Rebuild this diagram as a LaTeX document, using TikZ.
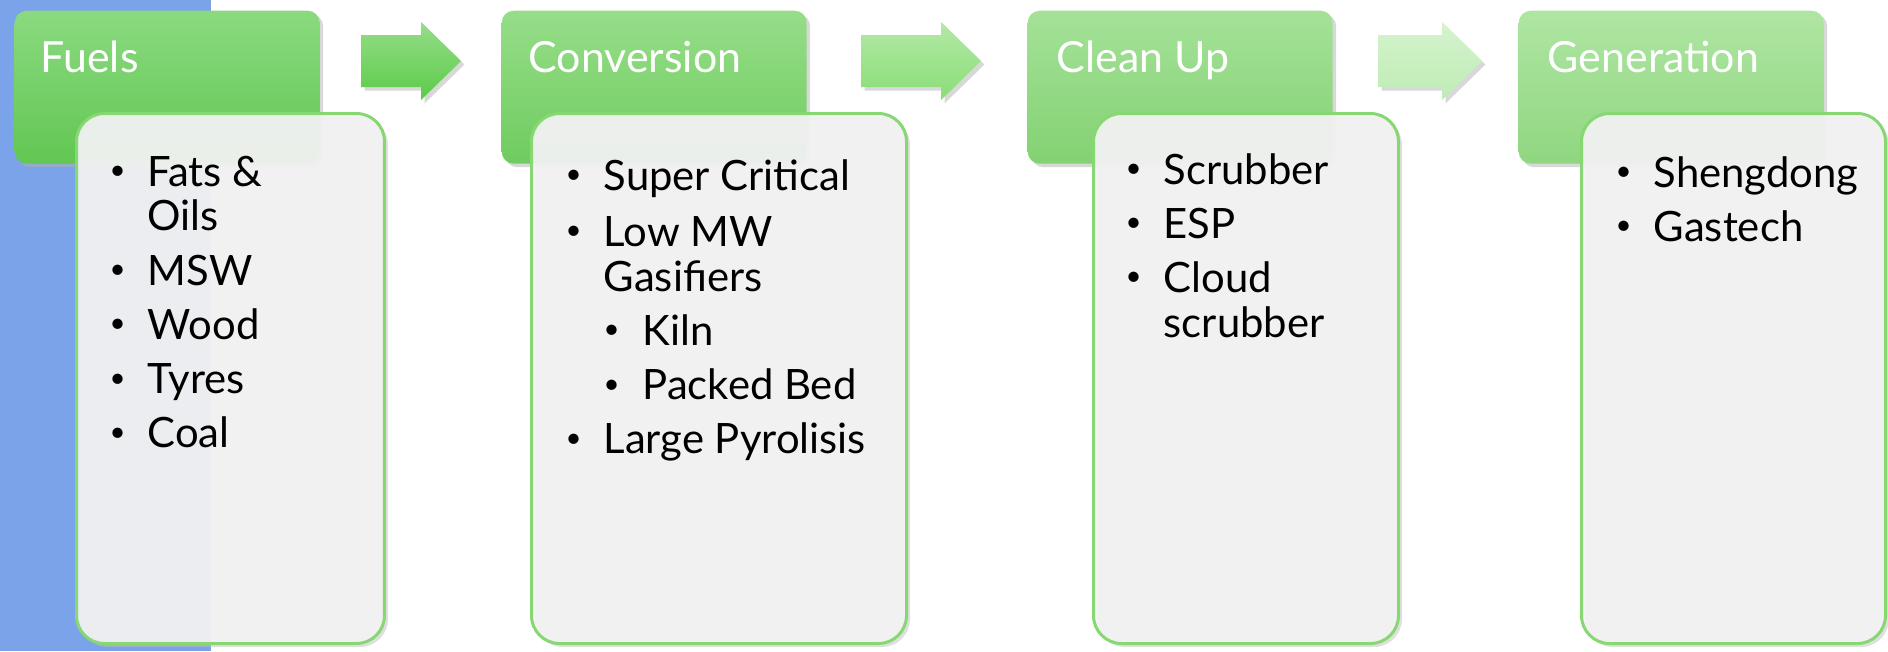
\documentclass[tikz,border=0pt]{standalone}
\usepackage{fontspec}
\setmainfont{Lato}
\usetikzlibrary{shadows}
\definecolor{stripblue}{RGB}{122,163,234}
\definecolor{fuelsgreen}{RGB}{100,205,85}
\definecolor{convgreen}{RGB}{115,210,98}
\definecolor{cleangreen}{RGB}{135,216,118}
\definecolor{gengreen}{RGB}{148,221,132}
\definecolor{arrowA}{RGB}{92,203,72}
\definecolor{arrowB}{RGB}{138,221,118}
\definecolor{arrowC}{RGB}{190,236,180}
\definecolor{boxfill}{RGB}{243,243,243}
\definecolor{boxline}{RGB}{135,215,115}
\newcommand{\dotmark}{\raisebox{0.3ex}{\scalebox{0.66}{\textbullet}}}
\begin{document}
\begin{tikzpicture}[x=0.1mm,y=-0.1mm,
header/.style={rectangle,rounded corners=1.2mm,anchor=north west,minimum width=30.5mm,minimum height=15.3mm,inner sep=0pt,
  top color=#1!75!white,middle color=#1,bottom color=#1!97!black,
  drop shadow={shadow xshift=0.35mm,shadow yshift=-0.35mm,fill=black!30}},
listbox/.style={rectangle,rounded corners=2.8mm,anchor=north west,minimum height=53mm,inner sep=0pt,
  draw=boxline,line width=0.3mm,fill=boxfill,fill opacity=0.92,
  drop shadow={shadow xshift=0.35mm,shadow yshift=-0.35mm,fill=black!25}},
headtext/.style={anchor=base west,inner sep=0pt,text=white,font=\fontsize{12.2}{15}\selectfont},
listtext/.style={anchor=base west,inner sep=0pt,align=left,font=\fontsize{11.9}{12.8}\selectfont},
flow/.style={top color=#1!65!white,bottom color=#1,drop shadow={shadow xshift=0.35mm,shadow yshift=-0.35mm,fill=black!30}}]
\path[use as bounding box] (0,0) rectangle (1888,651);
\fill[stripblue] (0,0) rectangle (211,651);

\node[header=fuelsgreen] (fuelsHead) at (14,10) {};
\node[header=convgreen] (convHead) at (501,10) {};
\node[header=cleangreen] (cleanHead) at (1027,10) {};
\node[header=gengreen] (genHead) at (1518,10) {};

\foreach \xa/\xb/\col in {361/461/arrowA,861/981/arrowB,1378/1482/arrowC}
  \path[flow=\col] (\xa,35) -- (\xb-40,35) -- (\xb-40,22) -- (\xb,61) -- (\xb-40,100) -- (\xb-40,87) -- (\xa,87) -- cycle;

\node[headtext] (fuelsText) at (40,72) {Fuels};
\node[headtext] (convText) at (528,72) {Conversion};
\node[headtext] (cleanText) at (1056,72) {Clean Up};
\node[headtext] (genText) at (1547,72) {Generation};

\node[listbox,minimum width=30.8mm] (fuelsBody) at (75,112) {};
\node[listbox,minimum width=37.5mm] (convBody) at (530,112) {};
\node[listbox,minimum width=30.5mm] (cleanBody) at (1092,112) {};
\node[listbox,minimum width=30.4mm] (genBody) at (1580,112) {};

\node[listtext] (fuelsList) at (109,186) {\begin{tabular}[t]{@{}p{3.8mm}@{}l@{}}
\dotmark & Fats \& \\ & Oils \\[2.6pt]
\dotmark & MSW \\[2.6pt]
\dotmark & Wood \\[2.6pt]
\dotmark & Tyres \\[2.6pt]
\dotmark & Coal
\end{tabular}};
\node[listtext] (convList) at (565,190) {\begin{tabular}[t]{@{}p{3.8mm}@{}l@{}}
\dotmark & Super Critical \\[3.2pt]
\dotmark & Low MW \\ & Gasifiers \\[2.6pt]
& \makebox[3.9mm][l]{\dotmark}Kiln \\[2.6pt]
& \makebox[3.9mm][l]{\dotmark}Packed Bed \\[2.6pt]
\dotmark & Large Pyrolisis
\end{tabular}};
\node[listtext] (cleanList) at (1125,184) {\begin{tabular}[t]{@{}p{3.8mm}@{}l@{}}
\dotmark & Scrubber \\[2.6pt]
\dotmark & ESP \\[2.6pt]
\dotmark & Cloud \\ & scrubber
\end{tabular}};
\node[listtext] (genList) at (1615,187) {\begin{tabular}[t]{@{}p{3.8mm}@{}l@{}}
\dotmark & Shengdong \\[2.6pt]
\dotmark & Gastech
\end{tabular}};

\end{tikzpicture}
\end{document}
